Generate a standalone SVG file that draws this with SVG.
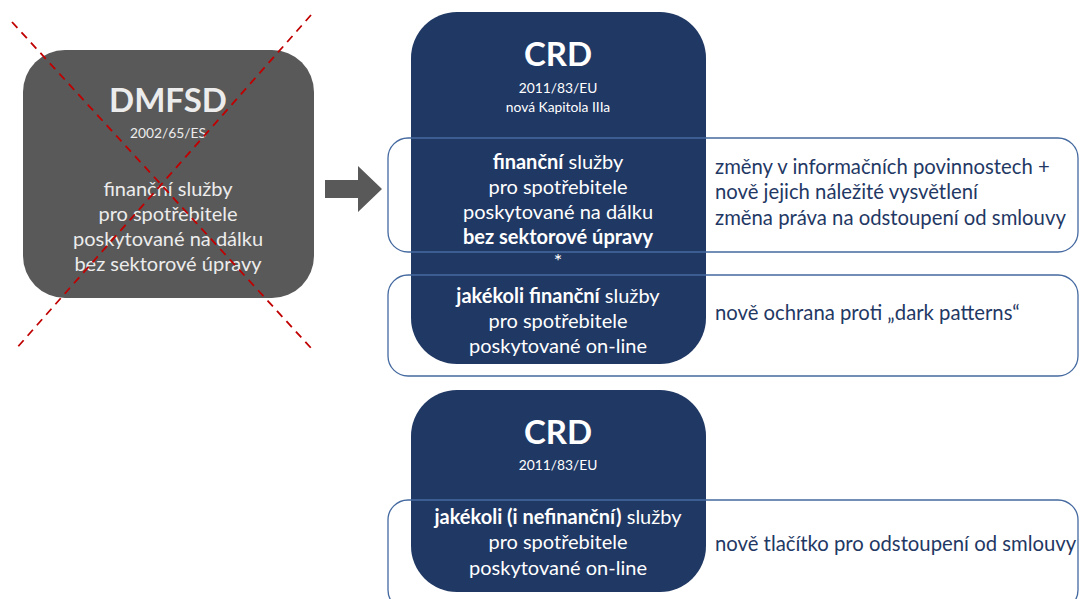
<svg xmlns="http://www.w3.org/2000/svg" width="1080" height="599" viewBox="0 0 1080 599">
<style>
text{font-family:Lato,"Liberation Sans",sans-serif;}
.w{fill:#ffffff;text-anchor:middle;}
.wg{fill:#ececec;text-anchor:middle;}
.t{font-size:33px;font-weight:bold;}
.s{font-size:13.8px;}
.m{font-size:20px;}
.b{font-weight:bold;}
.r{fill:#1f3864;font-size:20.3px;}
.ol{fill:none;stroke:#4469a0;stroke-width:1.3;}
.dark{fill:#203864;}
</style>
<rect width="1080" height="599" fill="#ffffff"/>
<g id="dmfsd">
<rect x="23" y="50" width="291" height="248" rx="42" fill="#595959"/>
<text class="wg t" x="168" y="112">DMFSD</text>
<text class="wg s" x="168" y="138">2002/65/ES</text>
<text class="wg m" x="168" y="196">finanční služby</text>
<text class="wg m" x="168" y="221">pro spotřebitele</text>
<text class="wg m" x="168" y="246">poskytované na dálku</text>
<text class="wg m" x="168" y="271">bez sektorové úpravy</text>
</g>
<g id="cross" stroke="#c00000" stroke-width="1.8" stroke-dasharray="8,6" fill="none">
<line x1="12" y1="22" x2="311" y2="348"/>
<line x1="311" y1="15" x2="15" y2="350"/>
</g>
<g id="arrow">
<polygon points="325,180 358,180 358,166 382,189 358,212 358,198 325,198" fill="#595959"/>
</g>
<g id="crd1">
<rect class="dark" x="411" y="12" width="295" height="352" rx="46"/>
<text class="w t" x="558" y="66">CRD</text>
<text class="w s" x="558" y="93">2011/83/EU</text>
<text class="w s" x="558" y="112">nová Kapitola IIIa</text>
<text class="w m" x="558" y="169"><tspan class="b">finanční</tspan> služby</text>
<text class="w m" x="558" y="194">pro spotřebitele</text>
<text class="w m" x="558" y="219">poskytované na dálku</text>
<text class="w m b" x="558" y="244">bez sektorové úpravy</text>
<text class="w m" x="558" y="268">*</text>
<text class="w m" x="558" y="303"><tspan class="b">jakékoli finanční</tspan> služby</text>
<text class="w m" x="558" y="328">pro spotřebitele</text>
<text class="w m" x="558" y="353">poskytované on-line</text>
</g>
<g id="crd2">
<rect class="dark" x="411" y="390" width="295" height="202" rx="46"/>
<text class="w t" x="558" y="444">CRD</text>
<text class="w s" x="558" y="470">2011/83/EU</text>
<text class="w m" x="558" y="524"><tspan class="b">jakékoli (i nefinanční)</tspan> služby</text>
<text class="w m" x="558" y="549">pro spotřebitele</text>
<text class="w m" x="558" y="575">poskytované on-line</text>
</g>
<g id="box1">
<rect class="ol" x="388" y="138" width="690" height="114" rx="20"/>
<text class="r" x="715" y="174">změny v informačních povinnostech +</text>
<text class="r" x="715" y="199">nově jejich náležité vysvětlení</text>
<text class="r" x="715" y="225">změna práva na odstoupení od smlouvy</text>
</g>
<g id="box2">
<rect class="ol" x="388" y="275" width="690" height="101" rx="20"/>
<text class="r" x="715" y="320">nově ochrana proti „dark patterns“</text>
</g>
<g id="box3">
<rect class="ol" x="388" y="500" width="690" height="110" rx="20"/>
<text class="r" x="715" y="551">nově tlačítko pro odstoupení od smlouvy</text>
</g>
<g id="connectors"></g>
</svg>
